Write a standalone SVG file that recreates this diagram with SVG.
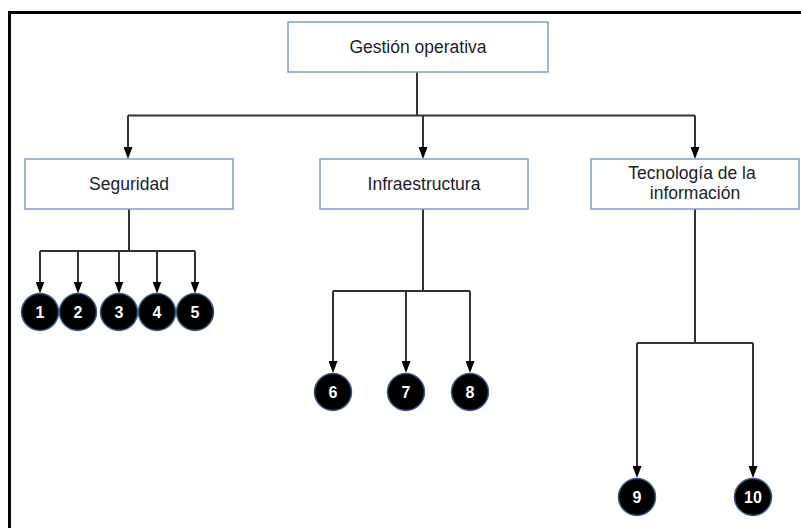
<svg xmlns="http://www.w3.org/2000/svg" width="801" height="528" viewBox="0 0 801 528">
<style>
.box{fill:#ffffff;stroke:#7f9dcc;stroke-width:1.5}
.lbl{font-family:"Liberation Sans",Arial,sans-serif;font-size:17.5px;fill:#1c1c2a;text-anchor:middle}
.ln{fill:none;stroke:#333333;stroke-width:2}
.dot{fill:#000000;stroke:#3a5a85;stroke-width:1.5}
.num{font-family:"Liberation Sans",Arial,sans-serif;font-size:16px;font-weight:bold;fill:#ffffff;text-anchor:middle}
</style>
<defs>
<marker id="arr" markerUnits="userSpaceOnUse" markerWidth="12" markerHeight="9" refX="4" refY="4.5" orient="auto">
<path d="M0,0 L12,4.5 L0,9 Z" fill="#000000"/>
</marker>
</defs>
<rect width="801" height="528" fill="#ffffff"/>
<rect x="9.5" y="12.5" width="900" height="600" fill="none" stroke="#000000" stroke-width="3"/>
<g id="connectors">
<path class="ln" d="M417,72 V115.5 M128,115.5 H695"/>
<path class="ln" d="M128,115.5 V151" marker-end="url(#arr)"/>
<path class="ln" d="M423,115.5 V151" marker-end="url(#arr)"/>
<path class="ln" d="M695,115.5 V151" marker-end="url(#arr)"/>
<path class="ln" d="M129,209 V251 M40,251 H195"/>
<path class="ln" d="M40,251 V285.5" marker-end="url(#arr)"/>
<path class="ln" d="M78,251 V285.5" marker-end="url(#arr)"/>
<path class="ln" d="M119,251 V285.5" marker-end="url(#arr)"/>
<path class="ln" d="M157,251 V285.5" marker-end="url(#arr)"/>
<path class="ln" d="M195,251 V285.5" marker-end="url(#arr)"/>
<path class="ln" d="M423,209 V291 M333,291 H470"/>
<path class="ln" d="M333,291 V365" marker-end="url(#arr)"/>
<path class="ln" d="M406,291 V365" marker-end="url(#arr)"/>
<path class="ln" d="M470,291 V365" marker-end="url(#arr)"/>
<path class="ln" d="M695,209 V343 M637,343 H753"/>
<path class="ln" d="M637,343 V470" marker-end="url(#arr)"/>
<path class="ln" d="M753,343 V470" marker-end="url(#arr)"/>
</g>
<g id="gestion">
<rect class="box" x="288" y="22" width="260" height="50"/>
<text class="lbl" x="418" y="53">Gestión operativa</text>
</g>
<g id="seguridad">
<rect class="box" x="25" y="159" width="208" height="50"/>
<text class="lbl" x="129" y="190">Seguridad</text>
</g>
<g id="infraestructura">
<rect class="box" x="320" y="159" width="208" height="50"/>
<text class="lbl" x="424" y="190">Infraestructura</text>
</g>
<g id="tecnologia">
<rect class="box" x="591" y="159" width="208" height="50"/>
<text class="lbl" x="692" y="179">Tecnología de la</text>
<text class="lbl" x="695" y="199">información</text>
</g>
<g id="n1"><circle class="dot" cx="40" cy="312" r="18.5"/><text class="num" x="40" y="318">1</text></g>
<g id="n2"><circle class="dot" cx="78" cy="312" r="18.5"/><text class="num" x="78" y="318">2</text></g>
<g id="n3"><circle class="dot" cx="119" cy="312" r="18.5"/><text class="num" x="119" y="318">3</text></g>
<g id="n4"><circle class="dot" cx="157" cy="312" r="18.5"/><text class="num" x="157" y="318">4</text></g>
<g id="n5"><circle class="dot" cx="195" cy="312" r="18.5"/><text class="num" x="195" y="318">5</text></g>
<g id="n6"><circle class="dot" cx="333" cy="392" r="18.5"/><text class="num" x="333" y="398">6</text></g>
<g id="n7"><circle class="dot" cx="406" cy="392" r="18.5"/><text class="num" x="406" y="398">7</text></g>
<g id="n8"><circle class="dot" cx="470" cy="392" r="18.5"/><text class="num" x="470" y="398">8</text></g>
<g id="n9"><circle class="dot" cx="637" cy="497" r="18.5"/><text class="num" x="637" y="503">9</text></g>
<g id="n10"><circle class="dot" cx="753" cy="497" r="18.5"/><text class="num" x="753" y="503">10</text></g>
</svg>
